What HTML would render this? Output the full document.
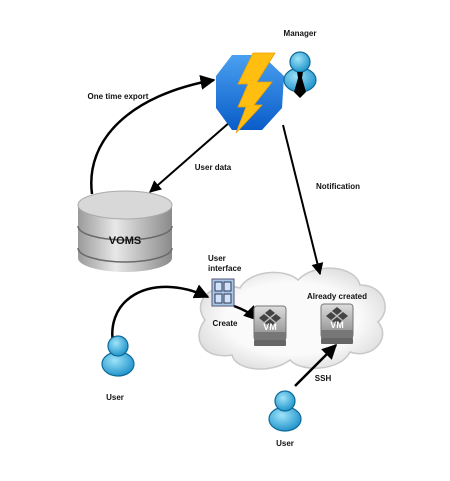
<!DOCTYPE html>
<html><head><meta charset="utf-8"><style>
html,body{margin:0;padding:0;background:#fff;}
svg text{font-family:"Liberation Sans",sans-serif;font-size:8px;font-weight:bold;fill:#111;}
</style></head><body>
<svg width="450" height="476" viewBox="0 0 450 476" xmlns="http://www.w3.org/2000/svg">
<defs>
<marker id="ar" viewBox="0 0 10 10" refX="9" refY="5" markerWidth="6" markerHeight="6" orient="auto"><path d="M0,0 L10,5 L0,10 z" fill="#000"/></marker>
<linearGradient id="cyl" x1="0" x2="1"><stop offset="0" stop-color="#9a9a9a"/><stop offset="0.4" stop-color="#e8e8e8"/><stop offset="1" stop-color="#8a8a8a"/></linearGradient>
<linearGradient id="hex" x1="0" y1="0" x2="0" y2="1"><stop offset="0" stop-color="#4aa0f0"/><stop offset="1" stop-color="#0a5cc8"/></linearGradient>
<radialGradient id="cl" cx="0.5" cy="0.5" r="0.6"><stop offset="0.6" stop-color="#fafafa"/><stop offset="1" stop-color="#d8d8d8"/></radialGradient>
<radialGradient id="pp" cx="0.4" cy="0.35" r="0.7"><stop offset="0" stop-color="#9ee4fa"/><stop offset="1" stop-color="#1a8fc8"/></radialGradient>
<linearGradient id="vm" x1="0" y1="0" x2="0" y2="1"><stop offset="0" stop-color="#ddd"/><stop offset="1" stop-color="#888"/></linearGradient>
<g id="person">
<ellipse cx="0" cy="14" rx="16" ry="12" fill="url(#pp)" stroke="#0d6a98" stroke-width="1.2"/>
<circle cx="0" cy="-4" r="10" fill="url(#pp)" stroke="#0d6a98" stroke-width="1.2"/>
</g>
<g id="vmi">
<rect x="-16" y="-16" width="32" height="34" rx="3" fill="url(#vm)" stroke="#777"/>
<rect x="-16" y="10" width="32" height="8" fill="#777"/>
<rect x="-16" y="18" width="32" height="6" rx="1" fill="#666"/>
<path d="M0,-13 L5,-9 L0,-5 L-5,-9z M-6,-8 L-1,-4 L-6,0 L-11,-4z M6,-8 L11,-4 L6,0 L1,-4z M0,-3 L5,1 L0,5 L-5,1z" fill="#444"/>
<text x="0" y="8" text-anchor="middle" fill="#fff" style="fill:#fff;font-size:9px">VM</text>
</g>
</defs>

<!-- cloud -->
<path d="M205,320 C190,300 215,280 240,288 C250,270 285,268 298,280 C315,262 355,265 360,285 C385,285 392,310 378,322 C392,338 372,360 350,352 C340,372 300,372 290,360 C270,375 235,370 232,355 C205,360 190,340 205,320 Z" fill="url(#cl)" stroke="#c8c8c8" stroke-width="1.5"/>

<!-- cylinder -->
<path d="M78,205 L78,258 A47,14 0 0 0 172,258 L172,205 Z" fill="url(#cyl)"/>
<path d="M78,226 A47,14 0 0 0 172,226 M78,248 A47,14 0 0 0 172,248" fill="none" stroke="#6a6a6a" stroke-width="1.5"/>
<ellipse cx="125" cy="205" rx="47" ry="14" fill="#d8d8d8" stroke="#aaa"/>
<text x="125" y="244" text-anchor="middle" style="font-size:11px">VOMS</text>

<!-- connectors -->
<path d="M92,194 C85,140 130,95 214,80" fill="none" stroke="#000" stroke-width="2.5" marker-end="url(#ar)"/>
<path d="M230,122 L150,192" fill="none" stroke="#000" stroke-width="2" marker-end="url(#ar)"/>
<path d="M283,125 L320,274" fill="none" stroke="#000" stroke-width="2" marker-end="url(#ar)"/>
<path d="M115,352 C100,300 150,270 208,297" fill="none" stroke="#000" stroke-width="2.5" marker-end="url(#ar)"/>
<path d="M234,306 C245,310 252,314 258,320" fill="none" stroke="#000" stroke-width="2.5" marker-end="url(#ar)"/>
<path d="M295,386 L336,345" fill="none" stroke="#000" stroke-width="2.5" marker-end="url(#ar)"/>

<!-- hexagon & bolt -->
<polygon points="232,55 262,55 284,76 282,108 262,130 232,130 216,108 216,76" fill="url(#hex)"/>
<polygon points="253,53 275,53 257,82 272,82 254,105 262,105 236,133 246,107 238,107 248,84 238,84" fill="#ffbe10" stroke="#f0a000" stroke-width="0.8"/>

<!-- manager -->
<use href="#person" x="300" y="66"/>
<polygon points="297,72 303,72 302,78 306,92 300,98 294,92 298,78" fill="#000"/>
<text x="300" y="36" text-anchor="middle">Manager</text>

<!-- user interface icon -->
<rect x="212" y="279" width="22" height="27" fill="#a8c8e8" stroke="#557"/>
<rect x="215" y="282" width="7" height="9" fill="#cfe4f8" stroke="#335"/><rect x="224" y="282" width="7" height="9" fill="#cfe4f8" stroke="#335"/>
<rect x="215" y="294" width="7" height="9" fill="#cfe4f8" stroke="#335"/><rect x="224" y="294" width="7" height="9" fill="#cfe4f8" stroke="#335"/>

<use href="#vmi" x="270" y="322"/>
<use href="#vmi" x="337" y="320"/>

<use href="#person" x="118" y="350"/>
<use href="#person" x="285" y="405"/>

<text x="118" y="99" text-anchor="middle">One time export</text>
<text x="213" y="170" text-anchor="middle">User data</text>
<text x="338" y="189" text-anchor="middle">Notification</text>
<text x="208" y="261">User</text>
<text x="208" y="271">interface</text>
<text x="337" y="299" text-anchor="middle">Already created</text>
<text x="225" y="326" text-anchor="middle">Create</text>
<text x="323" y="381" text-anchor="middle">SSH</text>
<text x="115" y="400" text-anchor="middle">User</text>
<text x="285" y="446" text-anchor="middle">User</text>
</svg>
</body></html>
